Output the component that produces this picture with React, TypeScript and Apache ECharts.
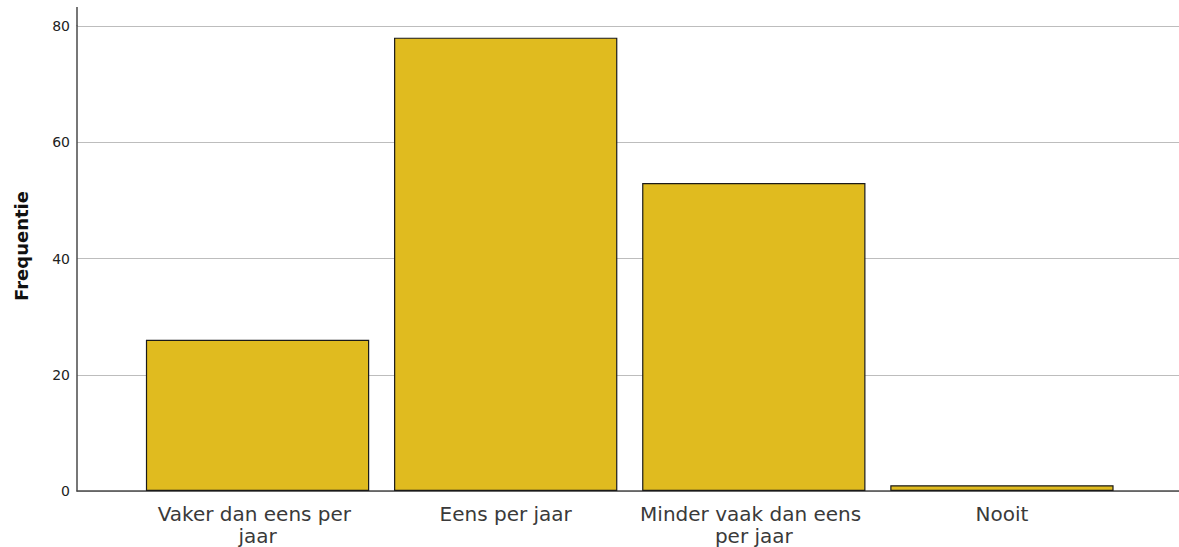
import React, { useEffect, useRef } from "react";
import * as echarts from "echarts";

const categories = ["Vaker dan eens per jaar", "Eens per jaar", "Minder vaak dan eens per jaar", "Nooit"];
const frequencies = [26, 78, 53, 1];
const yTicks = [0, 20, 40, 60, 80];
const yTitle = "Frequentie";

export default function App() {
  const ref = useRef<HTMLDivElement>(null);
  useEffect(() => {
    if (!ref.current) return;
    const chart = echarts.init(ref.current, null, { renderer: "svg" });
    const top = 26;
    const bottom = 56;
    const axisColor = "#4a4a4a";
    const font = "DejaVu Sans, Verdana, sans-serif";
    chart.setOption({
      animation: false,
      backgroundColor: "#ffffff",
      grid: [
        { left: 77, right: 0, top, bottom },
        { left: 133.5, right: 53, top, bottom },
      ],
      xAxis: [
        {
          gridIndex: 0,
          type: "value",
          min: 0,
          max: 1,
          axisLine: { show: true, lineStyle: { color: axisColor, width: 1.5 } },
          axisTick: { show: false },
          axisLabel: { show: false },
          splitLine: { show: false },
        },
        {
          gridIndex: 1,
          type: "category",
          data: categories,
          axisLine: { show: false },
          axisTick: { show: false },
          axisLabel: {
            interval: 0,
            margin: 12,
            fontSize: 20,
            lineHeight: 22,
            color: "#3a3a3a",
            fontFamily: font,
            width: 232,
            overflow: "break",
          },
        },
      ],
      yAxis: [
        {
          gridIndex: 0,
          type: "value",
          min: yTicks[0],
          max: yTicks[yTicks.length - 1],
          interval: 20,
          axisLine: { show: true, lineStyle: { color: axisColor, width: 1.5 } },
          axisTick: { show: false },
          axisLabel: {
            margin: 7,
            fontSize: 14,
            color: "#222222",
            fontFamily: font,
          },
          splitLine: { show: true, lineStyle: { color: "#bdbdbd", width: 1 } },
        },
        {
          gridIndex: 1,
          type: "value",
          min: yTicks[0],
          max: yTicks[yTicks.length - 1],
          show: false,
          splitLine: { show: false },
        },
      ],
      graphic: [
        {
          type: "line",
          shape: { x1: 77, y1: 7, x2: 77, y2: top },
          style: { stroke: axisColor, lineWidth: 1.5 },
          silent: true,
        },
        {
          type: "text",
          x: 21,
          y: 246,
          rotation: Math.PI / 2,
          style: {
            text: yTitle,
            fontSize: 18,
            fontWeight: "bold",
            fill: "#111111",
            fontFamily: font,
            align: "center",
            verticalAlign: "middle",
          },
        },
      ],
      series: [
        {
          type: "bar",
          xAxisIndex: 1,
          yAxisIndex: 1,
          data: frequencies,
          barWidth: "90%",
          itemStyle: { color: "#e0bb1f", borderColor: "#1a1a1a", borderWidth: 1.2 },
        },
      ],
    });
    return () => chart.dispose();
  }, []);
  return <div ref={ref} style={{ position: "fixed", left: 0, top: 0, width: 1179, height: 547 }} />;
}
